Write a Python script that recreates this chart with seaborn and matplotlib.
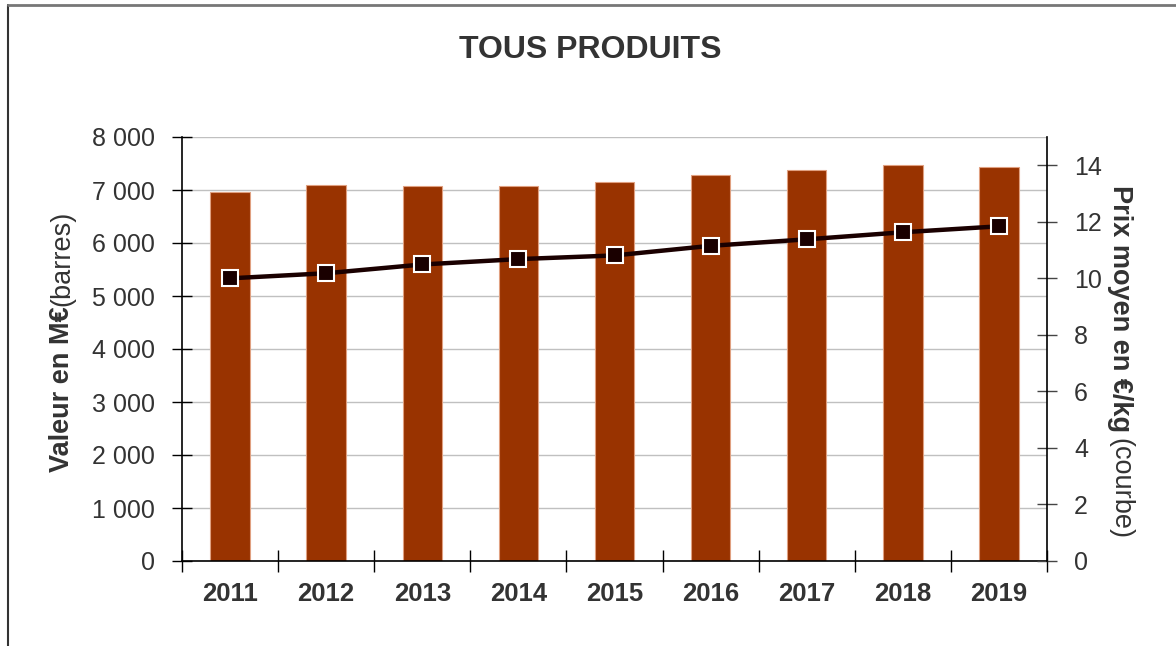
import numpy as np
import pandas as pd
import matplotlib
matplotlib.use("Agg")
import matplotlib.pyplot as plt
from matplotlib.lines import Line2D
from matplotlib.ticker import FuncFormatter, FixedLocator
import seaborn as sns

# Data
years = ["2011", "2012", "2013", "2014", "2015", "2016", "2017", "2018", "2019"]
valeur = [6960, 7100, 7080, 7080, 7145, 7285, 7385, 7465, 7435]      # M€ (bars)
prix = [10.00, 10.18, 10.49, 10.68, 10.81, 11.15, 11.38, 11.63, 11.84]  # €/kg (line)

df = pd.DataFrame({"Annee": years, "Valeur": valeur, "Prix": prix})

sns.set_style("white")
plt.rcParams["font.family"] = ["Liberation Sans", "DejaVu Sans"]
txt = "#333333"

fig = plt.figure(figsize=(11.76, 6.46), dpi=100)
ax = fig.add_axes([182 / 1176, 1 - 561 / 646, (1047 - 182) / 1176, (561 - 137) / 646])

# Bars
sns.barplot(data=df, x="Annee", y="Valeur", color="#993300", saturation=1,
            width=0.41, edgecolor="#e0a080", linewidth=0.8, ax=ax, zorder=2)
ax.set_ylim(0, 8000)
ax.set_yticks(np.arange(0, 8001, 1000))
ax.yaxis.set_major_formatter(FuncFormatter(lambda v, p: f"{int(v):,}".replace(",", " ")))
ax.grid(axis="y", color="#c0c0c0", linewidth=1)
ax.set_axisbelow(True)

# Line on secondary axis
ax2 = ax.twinx()
sns.pointplot(data=df, x="Annee", y="Prix", color="#1a0000", markers="s",
              markersize=12, markeredgecolor="white", markeredgewidth=1.5,
              linewidth=3.2, ax=ax2)
ax2.set_ylim(0, 15)
ax2.set_yticks(np.arange(0, 15, 2))

for a in (ax, ax2):
    a.set_xlim(-0.5, len(years) - 0.5)
    a.set_xlabel("")
    a.set_ylabel("")
    for s in a.spines.values():
        s.set_visible(False)

ax.spines["left"].set_visible(True)
ax.spines["bottom"].set_visible(True)
ax2.spines["right"].set_visible(True)
for s in (ax.spines["left"], ax.spines["bottom"], ax2.spines["right"]):
    s.set_color("black")
    s.set_linewidth(1.2)

# x ticks: labels centered, tick marks between categories
ax.xaxis.set_minor_locator(FixedLocator(np.arange(-0.5, len(years), 1.0)))
ax.tick_params(axis="x", which="major", length=0, pad=15, labelsize=18.5, labelcolor=txt)
ax.tick_params(axis="x", which="minor", length=16, direction="inout", color="black",
               width=1, bottom=True)
for lab in ax.get_xticklabels():
    lab.set_fontweight("bold")

ax.tick_params(axis="y", length=15, direction="inout", color="black", width=1,
               labelsize=18, labelcolor=txt, pad=12, left=True)
ax2.tick_params(axis="y", length=15, direction="inout", color="#444444", width=1,
                labelsize=18, labelcolor=txt, pad=12, right=True)
ax2.tick_params(axis="x", which="both", length=0, labelbottom=False)

# Title
fig.text(590 / 1176, 1 - 50 / 646, "TOUS PRODUITS", ha="center", va="center",
         fontsize=23, fontweight="bold", color=txt)

# Axis titles (bold part + regular part)
t1 = fig.text(62 / 1176, 1 - 472 / 646, "Valeur en M€", rotation=90, ha="center",
              va="bottom", fontsize=19.5, fontweight="bold", color=txt)
ax.annotate("(barres)", xy=(0.5, 1), xycoords=t1, rotation=90, ha="center",
            va="bottom", fontsize=19.5, color=txt, annotation_clip=False)

t2 = fig.text(1120 / 1176, 1 - 185 / 646, "Prix moyen en €/kg", rotation=-90, ha="center",
              va="top", fontsize=19.5, fontweight="bold", color=txt)
ax.annotate("(courbe)", xy=(0.5, 0), xycoords=t2, xytext=(0, -4), textcoords="offset points",
            rotation=-90, ha="center", va="top", fontsize=19.5, color=txt,
            annotation_clip=False)

# Chart frame (left and top edges)
fig.add_artist(Line2D([8 / 1176, 8 / 1176], [0, 1 - 5 / 646], transform=fig.transFigure,
                      color="#333333", linewidth=1.5))
fig.add_artist(Line2D([8 / 1176, 1], [1 - 5 / 646, 1 - 5 / 646], transform=fig.transFigure,
                      color="#777777", linewidth=2))

fig.savefig("out.png", dpi=100)
